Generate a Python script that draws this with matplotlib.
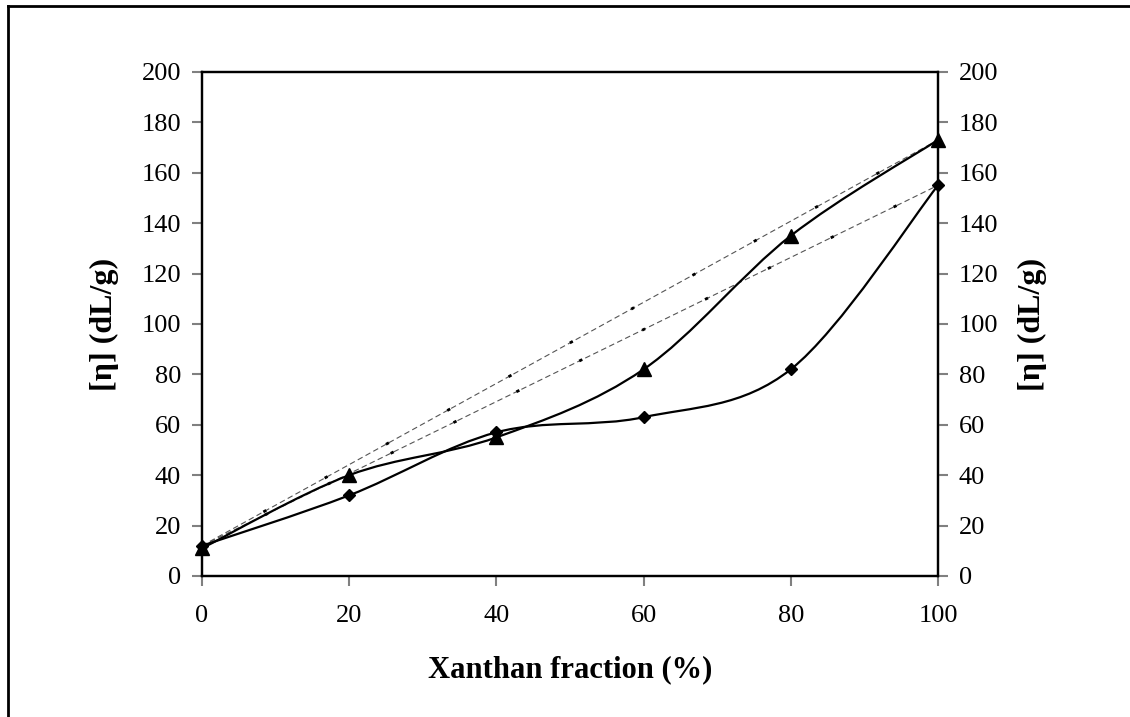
import numpy as np
import matplotlib.pyplot as plt
from matplotlib.path import Path
from matplotlib.patches import PathPatch

plt.rcParams['font.family'] = ['Liberation Serif', 'DejaVu Serif']

# xanthan fraction (%)
fraction = [0, 20, 40, 60, 80, 100]
# intrinsic viscosity, two series
eta_tri = [11, 40, 55, 82, 135, 173]
eta_dia = [12, 32, 57, 63, 82, 155]
# additivity lines (end points)
add_x = [0, 100]
add_tri = [12, 173]
add_dia = [12, 155]


#Excel-like smoothed line, built from bezier control points through the data
def smooth_path(x, y):
    pts = np.column_stack([x, y]).astype(float)
    verts = [pts[0]]
    codes = [Path.MOVETO]
    n = len(pts)
    for i in range(n - 1):
        p0 = pts[max(i - 1, 0)]
        p1 = pts[i]
        p2 = pts[i + 1]
        p3 = pts[min(i + 2, n - 1)]
        c1 = p1 + (p2 - p0) / 6.0
        c2 = p2 - (p3 - p1) / 6.0
        verts += [c1, c2, p2]
        codes += [Path.CURVE4] * 3
    return Path(verts, codes)


fig = plt.figure(figsize=(11.3, 7.17), dpi=100)
ax = fig.add_axes([0.1788, 0.1967, 0.6513, 0.703])

for y in [eta_tri, eta_dia]:
    ax.add_patch(PathPatch(smooth_path(fraction, y), facecolor='none', edgecolor='black', lw=1.6, zorder=3))

for y in [add_tri, add_dia]:
    ax.plot(add_x, y, color='#555555', lw=0.8, linestyle=(0, (5, 3)), zorder=2)
    ax.plot(add_x, y, color='black', lw=2.0, linestyle=(0, (1.2, 24)), zorder=2)

ax.plot(fraction, eta_tri, linestyle='none', marker='^', color='black', markersize=9.5, zorder=4, clip_on=False)
ax.plot(fraction, eta_dia, linestyle='none', marker='D', color='black', markersize=6.5, zorder=4, clip_on=False)

ax.set_xlim(0, 100)
ax.set_ylim(0, 200)
ax.set_xticks(np.arange(0, 101, 20))
ax.set_yticks(np.arange(0, 201, 20))
ax.tick_params(direction='out', length=7, width=1.5, color='#808080', labelsize=19, pad=8)
ax.tick_params(axis='x', pad=14)
for s in ax.spines.values():
    s.set_linewidth(1.6)

ax2 = ax.twinx()
ax2.set_ylim(0, 200)
ax2.set_yticks(np.arange(0, 201, 20))
ax2.tick_params(direction='out', length=7, width=1.5, color='#808080', labelsize=19, pad=8)
for s in ax2.spines.values():
    s.set_linewidth(1.6)

ax.set_xlabel('Xanthan fraction (%)', fontsize=22, fontweight='bold', labelpad=20)
ax.set_ylabel('[η] (dL/g)', fontsize=23, fontweight='bold', labelpad=16)
ax2.set_ylabel('[η] (dL/g)', fontsize=23, fontweight='bold', labelpad=14)

# outer chart border (left and top only visible in the reference)
fig.add_artist(plt.Line2D([0.0075, 0.0075], [0, 0.992], color='black', lw=2, transform=fig.transFigure))
fig.add_artist(plt.Line2D([0.0075, 1.0], [0.992, 0.992], color='black', lw=2, transform=fig.transFigure))

fig.savefig('out.png', dpi=100)
